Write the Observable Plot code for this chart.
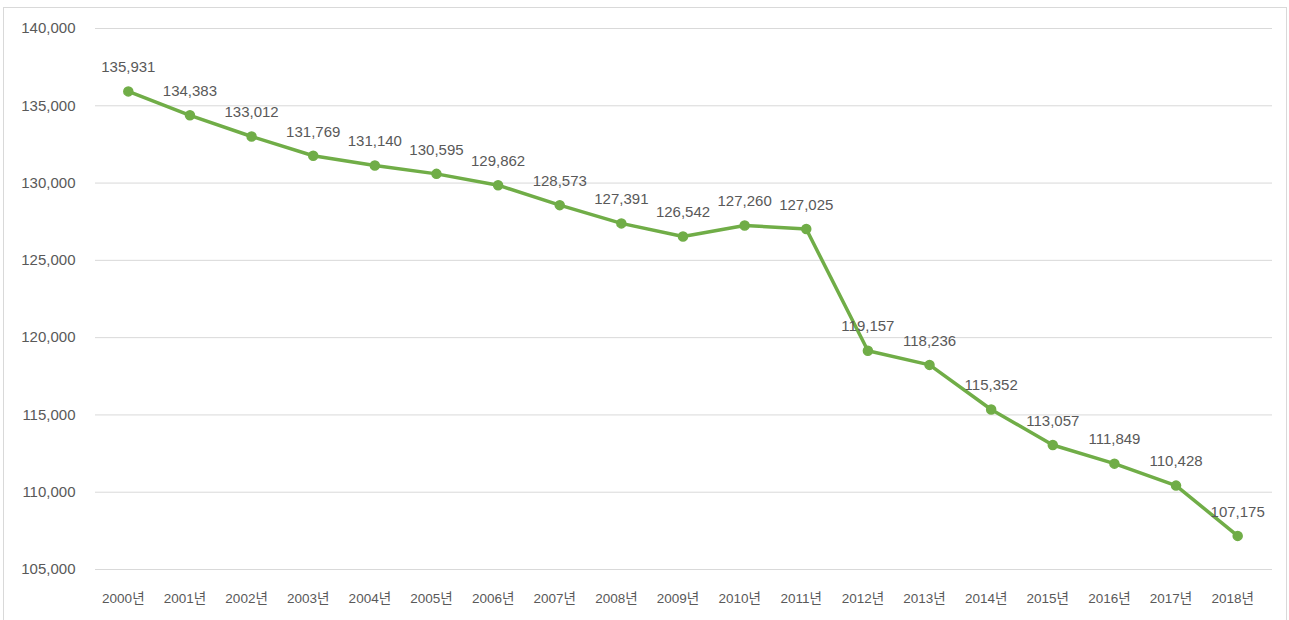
<!DOCTYPE html>
<html>
<head>
<meta charset="utf-8">
<script src="https://cdn.jsdelivr.net/npm/d3@7"></script>
<script src="https://cdn.jsdelivr.net/npm/@observablehq/plot@0.6"></script>
<style>
  html, body { margin: 0; padding: 0; background: #fff; }
  #wrap { position: relative; width: 1289px; height: 620px; overflow: hidden; }
  #border { position: absolute; left: 3px; top: 7px; width: 1284px; height: 700px; border: 1px solid #d9d9d9; box-sizing: border-box; pointer-events: none; }
  svg { font-family: "Liberation Sans", Arial, "Noto Sans CJK KR", sans-serif; }
</style>
</head>
<body>
<div id="wrap"><div id="border"></div><div id="chart"></div></div>
<script>
const years = ["2000년","2001년","2002년","2003년","2004년","2005년","2006년","2007년","2008년","2009년","2010년","2011년","2012년","2013년","2014년","2015년","2016년","2017년","2018년"];
const values = [135931,134383,133012,131769,131140,130595,129862,128573,127391,126542,127260,127025,119157,118236,115352,113057,111849,110428,107175];
const yTicks = [105000,110000,115000,120000,125000,130000,135000,140000];

const data = years.map((y, i) => ({year: y, value: values[i]}));
const fmt = d3.format(",");
const textColor = "#595959";
const green = "#70AD47";

const chart = Plot.plot({
  width: 1289,
  height: 620,
  marginLeft: 97,
  marginRight: 21,
  marginTop: 28,
  marginBottom: 51,
  style: {fontFamily: '"Liberation Sans", Arial, "Noto Sans CJK KR", sans-serif', background: "transparent"},
  x: {type: "point", domain: years, padding: 0.5, round: false},
  y: {domain: [105000, 140000]},
  marks: [
    Plot.ruleY(yTicks, {stroke: "#d9d9d9", strokeWidth: 1, insetLeft: -2, insetRight: -4}),
    Plot.axisY({ticks: yTicks, tickSize: 0, tickPadding: 22, tickFormat: fmt, fontSize: 15, fill: textColor, label: null}),
    Plot.axisX({tickSize: 0, tickPadding: 24, fontSize: 13.5, fill: textColor, dx: -5, label: null}),
    Plot.line(data, {x: "year", y: "value", stroke: green, strokeWidth: 3.5, strokeLinejoin: "round", strokeLinecap: "round"}),
    Plot.dot(data, {x: "year", y: "value", r: 4.5, fill: green, stroke: green}),
    Plot.text(data, {x: "year", y: "value", text: d => fmt(d.value), dy: -24, fontSize: 15, fill: textColor})
  ]
});
document.getElementById("chart").appendChild(chart);
</script>
</body>
</html>
